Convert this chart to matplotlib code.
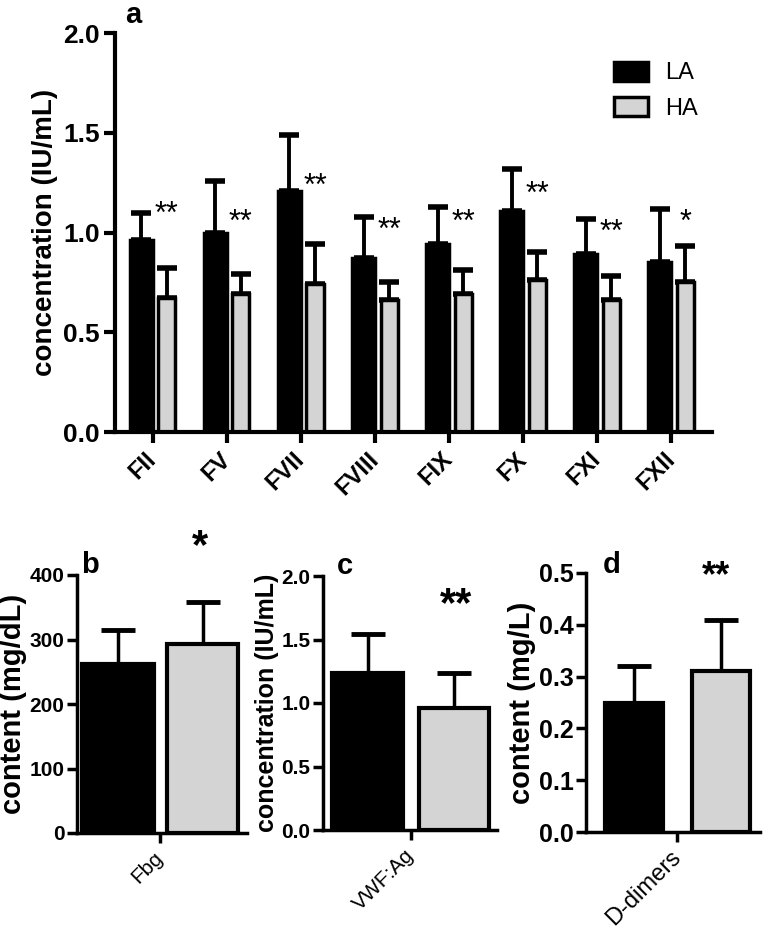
import matplotlib
matplotlib.use("Agg")
import matplotlib.pyplot as plt
from matplotlib.patches import Patch
import numpy as np

plt.rcParams['font.family'] = ['Liberation Sans', 'DejaVu Sans']

# panel a: coagulation factors
factors = ['FII', 'FV', 'FVII', 'FVIII', 'FIX', 'FX', 'FXI', 'FXII']
la_mean = [0.96, 1.00, 1.21, 0.87, 0.94, 1.11, 0.89, 0.85]
la_sd = [0.14, 0.26, 0.28, 0.21, 0.19, 0.21, 0.18, 0.27]
ha_mean = [0.67, 0.69, 0.74, 0.66, 0.69, 0.76, 0.66, 0.75]
ha_sd = [0.15, 0.10, 0.20, 0.09, 0.12, 0.14, 0.12, 0.18]
sig_a = ['**', '**', '**', '**', '**', '**', '**', '*']

# panels b, c, d: [LA, HA]
fbg_mean = [262, 293]
fbg_sd = [53, 65]
vwf_mean = [1.24, 0.96]
vwf_sd = [0.30, 0.28]
dd_mean = [0.25, 0.31]
dd_sd = [0.07, 0.10]

BLACK = 'black'
GRAY = '#d4d4d4'

fig = plt.figure(figsize=(7.67, 9.33), dpi=100)

# ---------------- panel a ----------------
ax = fig.add_axes([115/767, 1-432/933, 597/767, 399/933])
x = np.arange(len(factors))
xb = x - 0.155
xg = x + 0.19
ax.bar(xb, la_mean, width=0.31, color=BLACK, edgecolor='black', linewidth=2.5, zorder=2)
ax.bar(xg, ha_mean, width=0.23, color=GRAY, edgecolor='black', linewidth=2.5, zorder=2)
for xs, m, s in [(xb, la_mean, la_sd), (xg, ha_mean, ha_sd)]:
    ax.errorbar(xs, m, yerr=[np.zeros(len(s)), s], fmt='none', ecolor='black',
                elinewidth=2.8, capsize=7, capthick=4, zorder=1)

star_y_a = [1.14, 1.10, 1.28, 1.06, 1.10, 1.24, 1.05, 1.10]
for xi, sy, s in zip(x, star_y_a, sig_a):
    ax.annotate(s, (xi + 0.19, sy), xytext=(0, -0.59*22), textcoords='offset points',
                ha='center', va='baseline', fontsize=22)

ax.set_xlim(-0.51, 7.55)
ax.set_ylim(0, 2.0)
ax.set_yticks([0.0, 0.5, 1.0, 1.5, 2.0])
ax.set_yticklabels(['0.0', '0.5', '1.0', '1.5', '2.0'], fontsize=19, fontweight='bold')
ax.set_xticks(x)
ax.set_xticklabels(factors, fontsize=17, fontweight='bold', rotation=45,
                   ha='right', va='center', rotation_mode='anchor')
ax.set_ylabel('concentration (IU/mL)', fontsize=20, fontweight='bold', labelpad=4)
for sp in ['top', 'right']:
    ax.spines[sp].set_visible(False)
for sp in ['left', 'bottom']:
    ax.spines[sp].set_linewidth(3)
ax.tick_params(width=3, length=8, pad=3)
ax.tick_params(axis='x', pad=9)

handles = [Patch(facecolor=BLACK, edgecolor='black', linewidth=2.5, label='LA'),
           Patch(facecolor=GRAY, edgecolor='black', linewidth=2.5, label='HA')]
ax.legend(handles=handles, loc='upper left', bbox_to_anchor=(0.836, 0.928),
          frameon=False, fontsize=17, borderpad=0, borderaxespad=0,
          handlelength=1.45, handleheight=0.85, handletextpad=0.7, labelspacing=0.55)

fig.text(133/767, 1-15/933, 'a', fontsize=21, fontweight='bold', ha='center', va='center')


# ---------------- small panels ----------------
def small_panel(rect, means, sds, xlim, width, ylim, yticks, ytlabels, tick_fs,
                ylabel, ylabel_fs, xlabel, xlabel_fs, star, star_xy, star_fs, letter, letter_xy):
    a = fig.add_axes(rect)
    xs = [-0.5, 0.5]
    a.bar(xs, means, width=width, color=[BLACK, GRAY], edgecolor='black', linewidth=3, zorder=2)
    a.errorbar(xs, means, yerr=[[0, 0], sds], fmt='none', ecolor='black',
               elinewidth=2.5, capsize=12, capthick=3.5, zorder=1)
    a.set_xlim(*xlim)
    a.set_ylim(*ylim)
    a.set_yticks(yticks)
    a.set_yticklabels(ytlabels, fontsize=tick_fs, fontweight='bold')
    a.set_xticks([0])
    a.set_xticklabels([xlabel], fontsize=xlabel_fs, rotation=45, ha='right', va='center',
                      rotation_mode='anchor')
    a.set_ylabel(ylabel, fontsize=ylabel_fs, fontweight='bold', labelpad=2)
    for sp in ['top', 'right']:
        a.spines[sp].set_visible(False)
    for sp in ['left', 'bottom']:
        a.spines[sp].set_linewidth(2.5)
    a.tick_params(width=2.5, length=7, pad=2)
    a.tick_params(axis='x', pad=9)
    a.annotate(star, star_xy, xytext=(0, -0.59*star_fs), textcoords='offset points',
               ha='center', va='baseline', fontsize=star_fs, fontweight='bold',
               annotation_clip=False)
    fig.text(letter_xy[0]/767, 1-letter_xy[1]/933, letter, fontsize=21, fontweight='bold',
             ha='center', va='center')
    return a


small_panel([77/767, 1-833/933, 170/767, 258/933], fbg_mean, fbg_sd, (-0.98, 1.02), 0.84,
            (0, 400), [0, 100, 200, 300, 400], ['0', '100', '200', '300', '400'], 15,
            'content (mg/dL)', 21, 'Fbg', 15, '*', (0.47, 464), 30, 'b', (90, 565))

small_panel([323/767, 1-830/933, 174/767, 254/933], vwf_mean, vwf_sd, (-1.02, 1.0), 0.82,
            (0, 2.0), [0, 0.5, 1.0, 1.5, 2.0], ['0.0', '0.5', '1.0', '1.5', '2.0'], 15,
            'concentration (IU/mL)', 18, 'VWF:Ag', 15, '**', (0.53, 1.88), 30, 'c', (345, 566))

small_panel([586/767, 1-832/933, 174/767, 259/933], dd_mean, dd_sd, (-1.05, 0.95), 0.66,
            (0, 0.5), [0, 0.1, 0.2, 0.3, 0.4, 0.5], ['0.0', '0.1', '0.2', '0.3', '0.4', '0.5'], 18,
            'content (mg/L)', 21, 'D-dimers', 17, '**', (0.44, 0.515), 26, 'd', (612, 565))

fig.savefig('out.png', dpi=100)
